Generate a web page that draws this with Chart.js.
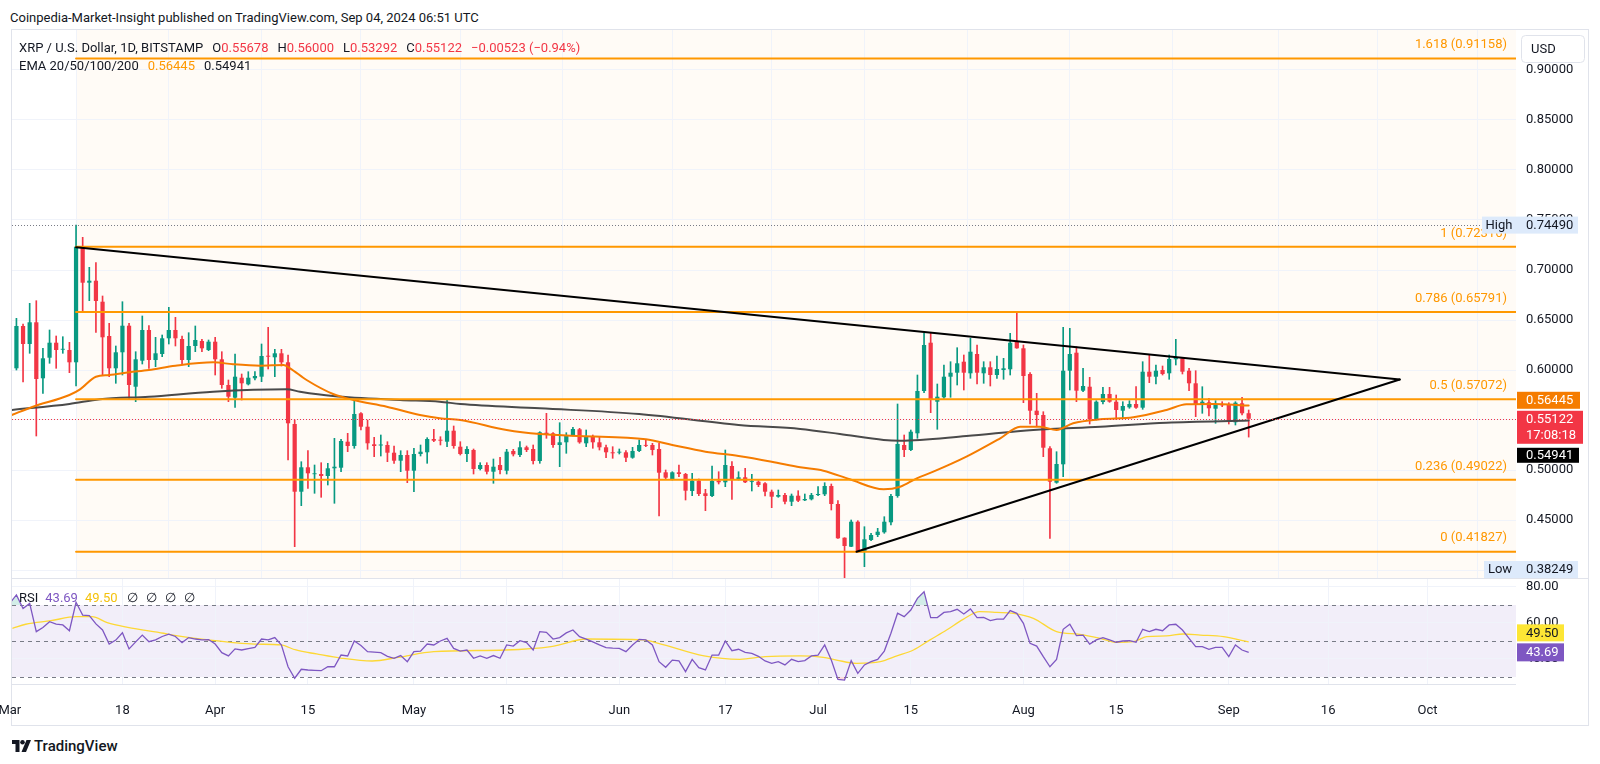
<!DOCTYPE html>
<html>
<head>
<meta charset="utf-8">
<script src="https://cdn.jsdelivr.net/npm/chart.js@4.4.1/dist/chart.umd.min.js"></script>
<style>
html,body{margin:0;padding:0;background:#fff;width:1600px;height:764px;overflow:hidden;font-family:Roboto,"Liberation Sans",sans-serif;color:#131722;}
.abs{position:absolute;white-space:nowrap;font-size:13px;line-height:19px;}
canvas{position:absolute;left:0;}
#frame{position:absolute;left:11px;top:29px;width:1578px;height:697px;border:1px solid #e0e3eb;box-sizing:border-box;pointer-events:none;}
.sep{position:absolute;left:12px;width:1576px;height:1px;background:#e0e3eb;}
.r{color:#F23645}
.o{color:#FF9800}
.p{color:#7E57C2}
.yl{color:#F4C20D}
</style>
</head>
<body>
<div id="frame"></div>
<canvas id="price" width="1600" height="548" style="top:30px;width:1600px;height:548px"></canvas>
<div class="sep" style="top:578px"></div>
<canvas id="rsi" width="1600" height="147" style="top:579px;width:1600px;height:147px"></canvas>
<div class="sep" style="top:684px;width:1504px"></div>

<div class="abs" style="left:10px;top:8px;">Coinpedia-Market-Insight published on TradingView.com, Sep 04, 2024 06:51 UTC</div>
<div class="abs" style="left:19px;top:37.5px;">XRP / U.S. Dollar, 1D, BITSTAMP<span style="margin-left:9px">O</span><span class="r">0.55678</span><span style="margin-left:9px">H</span><span class="r">0.56000</span><span style="margin-left:9px">L</span><span class="r">0.53292</span><span style="margin-left:9px">C</span><span class="r">0.55122</span><span class="r" style="margin-left:9px">−0.00523 (−0.94%)</span></div>
<div class="abs" style="left:19px;top:55.5px;">EMA 20/50/100/200<span class="o" style="margin-left:9px">0.56445</span><span style="margin-left:9px">0.54941</span></div>
<div class="abs" style="left:19px;top:587.5px;">RSI<span class="p" style="margin-left:7px">43.69</span><span class="yl" style="margin-left:7px">49.50</span><span style="margin-left:9px">∅</span><span style="margin-left:8px">∅</span><span style="margin-left:8px">∅</span><span style="margin-left:8px">∅</span></div>
<div class="abs" style="left:12px;top:736px;font-size:15px;line-height:20px;font-weight:500;">
<svg width="19" height="12" viewBox="0 0 38 24" style="vertical-align:-1px"><path d="M0 0h15v24H7V8H0z" fill="#131722"/><circle cx="21" cy="4.5" r="4.5" fill="#131722"/><path d="M29 0h9L28 24h-9z" fill="#131722"/></svg><span style="margin-left:3px">TradingView</span></div>

<script>
// ---------- DATA (day index 0 = 2024-03-01) ----------
const opens = [0.5867,0.6017,0.644,0.626,0.6477,0.5917,0.6123,0.6273,0.6205,0.62,
0.6077,0.7233,0.6873,0.6893,0.6683,0.634,0.6017,0.6177,0.6443,0.5833,
0.6093,0.64,0.61,0.616,0.6317,0.64,0.631,0.61,0.624,0.629,
0.62,0.6283,0.6107,0.585,0.5723,0.5923,0.5857,0.5917,0.5933,0.6143,
0.6127,0.6167,0.6077,0.546,0.4783,0.5027,0.496,0.496,0.494,0.5017,
0.5023,0.5283,0.524,0.5567,0.5433,0.5257,0.5245,0.525,0.5173,0.5093,
0.515,0.4993,0.516,0.5177,0.531,0.5303,0.5283,0.5393,0.5233,0.516,
0.52,0.501,0.505,0.4983,0.505,0.4993,0.519,0.515,0.5227,0.521,
0.509,0.5373,0.5367,0.525,0.5277,0.535,0.5407,0.5267,0.5333,0.5277,
0.5227,0.5177,0.5177,0.5177,0.5123,0.519,0.525,0.525,0.521,0.4977,
0.491,0.4977,0.496,0.479,0.4893,0.4767,0.474,0.4893,0.4877,0.504,
0.491,0.4927,0.4883,0.4883,0.4867,0.4783,0.4733,0.475,0.4683,0.4743,
0.4697,0.4707,0.475,0.4757,0.484,0.466,0.4323,0.4233,0.4483,0.4183,
0.43,0.435,0.4377,0.4477,0.474,0.525,0.52,0.5367,0.579,0.6273,
0.5683,0.5727,0.5933,0.5973,0.6083,0.5967,0.616,0.5967,0.6027,0.595,
0.60,0.6007,0.6283,0.6217,0.596,0.5593,0.555,0.5217,0.4873,0.5057,
0.5993,0.6173,0.5793,0.5833,0.5507,0.568,0.576,0.5683,0.5593,0.5627,
0.566,0.5623,0.5983,0.5933,0.60,0.5967,0.6107,0.6117,0.5993,0.5867,
0.566,0.5677,0.5613,0.566,0.566,0.5477,0.5667,0.55678];
const highs = [0.604,0.6517,0.646,0.6667,0.6693,0.6217,0.64,0.634,0.6333,0.6277,
0.7449,0.7327,0.7027,0.7073,0.674,0.6467,0.624,0.6683,0.6467,0.6183,
0.654,0.6443,0.6327,0.635,0.6627,0.6527,0.634,0.6373,0.644,0.6307,
0.63,0.6327,0.6183,0.59,0.616,0.596,0.5983,0.5983,0.626,0.6427,
0.6207,0.6207,0.615,0.55,0.5083,0.5193,0.505,0.5073,0.5067,0.5317,
0.5307,0.5367,0.5707,0.5573,0.55,0.5327,0.535,0.5283,0.524,0.5193,
0.5193,0.5217,0.525,0.5323,0.5407,0.5333,0.57,0.544,0.5283,0.5233,
0.521,0.5073,0.5073,0.511,0.5127,0.5207,0.5207,0.5283,0.524,0.525,
0.5383,0.5567,0.5373,0.5473,0.5373,0.5427,0.5417,0.54,0.535,0.5327,
0.525,0.5233,0.521,0.5193,0.5227,0.53,0.5307,0.5267,0.5267,0.50,
0.4983,0.505,0.4967,0.4967,0.491,0.4807,0.504,0.4983,0.52,0.5083,
0.4983,0.5017,0.4957,0.4893,0.4873,0.48,0.48,0.4767,0.476,0.4793,
0.476,0.4767,0.4833,0.4873,0.486,0.4693,0.4323,0.45,0.4493,0.4433,
0.4367,0.4417,0.4533,0.4757,0.566,0.535,0.54,0.595,0.6367,0.6373,
0.586,0.605,0.6083,0.6223,0.615,0.6317,0.625,0.6083,0.6083,0.614,
0.6117,0.6367,0.6573,0.625,0.5973,0.5767,0.5583,0.5233,0.5183,0.6427,
0.6417,0.6233,0.6017,0.5927,0.5693,0.5827,0.5827,0.575,0.5683,0.5693,
0.5833,0.6083,0.615,0.605,0.604,0.615,0.6307,0.6127,0.6017,0.5993,
0.5833,0.5717,0.5693,0.5683,0.5673,0.5683,0.5727,0.56];
const lows = [0.583,0.60,0.588,0.6167,0.534,0.5767,0.6067,0.6017,0.6167,0.5973,
0.584,0.6583,0.6693,0.6377,0.595,0.5933,0.5867,0.595,0.5707,0.5683,
0.606,0.6017,0.6033,0.6133,0.626,0.624,0.605,0.6033,0.6183,0.6183,
0.6193,0.595,0.5817,0.5683,0.5627,0.57,0.585,0.59,0.5883,0.601,
0.5933,0.604,0.51,0.4233,0.4643,0.4817,0.4767,0.4727,0.485,0.4667,
0.4983,0.5183,0.5217,0.54,0.5207,0.5133,0.514,0.5083,0.5067,0.4983,
0.4873,0.4783,0.514,0.5067,0.5283,0.525,0.5233,0.5217,0.515,0.5083,
0.496,0.50,0.496,0.4867,0.496,0.496,0.514,0.5133,0.5183,0.506,
0.5067,0.5317,0.5227,0.5033,0.5167,0.534,0.5267,0.5233,0.5217,0.52,
0.5123,0.5117,0.516,0.5083,0.5117,0.5183,0.5233,0.515,0.454,0.491,
0.49,0.4933,0.47,0.4743,0.4743,0.4593,0.4733,0.486,0.4833,0.4707,
0.49,0.4873,0.479,0.4833,0.474,0.4623,0.4727,0.466,0.4643,0.4683,
0.4693,0.47,0.4743,0.4743,0.46,0.4317,0.38249,0.4233,0.4183,0.4033,
0.4293,0.4333,0.4367,0.445,0.4727,0.5133,0.5193,0.5317,0.5773,0.5573,
0.5407,0.5717,0.5727,0.585,0.58,0.5917,0.586,0.5867,0.584,0.5917,
0.5907,0.595,0.6217,0.5673,0.546,0.5433,0.5133,0.4317,0.4867,0.4933,
0.58,0.5683,0.5783,0.546,0.55,0.566,0.5677,0.5507,0.5517,0.5617,
0.5617,0.5607,0.5873,0.586,0.595,0.5907,0.605,0.596,0.5793,0.5533,
0.5567,0.554,0.5467,0.5633,0.546,0.545,0.555,0.53292];
const closes = [0.6017,0.644,0.626,0.6477,0.591,0.6117,0.6273,0.62,0.621,0.6077,
0.7233,0.6873,0.6893,0.669,0.6327,0.6017,0.6177,0.6443,0.585,0.6107,
0.64,0.61,0.6167,0.6317,0.64,0.6317,0.61,0.624,0.63,0.6217,
0.6283,0.6107,0.585,0.5733,0.5933,0.5867,0.5923,0.594,0.614,0.6133,
0.6167,0.6077,0.5467,0.4783,0.5027,0.4967,0.4965,0.494,0.5017,0.5033,
0.529,0.524,0.556,0.5433,0.5267,0.524,0.5255,0.5173,0.5093,0.515,
0.4993,0.516,0.5183,0.531,0.5293,0.5293,0.5393,0.524,0.516,0.521,
0.501,0.505,0.4983,0.5033,0.50,0.5183,0.5157,0.5227,0.52,0.509,
0.5377,0.536,0.525,0.5277,0.535,0.541,0.5277,0.5333,0.5277,0.5227,
0.5177,0.5167,0.518,0.5123,0.519,0.525,0.5243,0.52,0.4973,0.4923,
0.4977,0.496,0.4793,0.4893,0.476,0.474,0.489,0.4877,0.505,0.491,
0.4927,0.4877,0.4885,0.485,0.4783,0.4733,0.475,0.4683,0.4743,0.4693,
0.471,0.475,0.476,0.484,0.466,0.4317,0.424,0.4483,0.4183,0.4307,
0.435,0.4383,0.4483,0.474,0.526,0.52,0.5383,0.579,0.625,0.57,
0.5733,0.5933,0.5973,0.6067,0.5973,0.6183,0.5973,0.6027,0.595,0.601,
0.6017,0.6273,0.6217,0.594,0.5593,0.555,0.5223,0.4883,0.506,0.5993,
0.616,0.5793,0.584,0.5507,0.5683,0.576,0.5683,0.56,0.564,0.566,
0.5623,0.5983,0.5933,0.5993,0.596,0.611,0.6127,0.5983,0.5867,0.566,
0.5683,0.5617,0.566,0.5647,0.5483,0.5673,0.5567,0.55122];

const ema50Days = [0.3,3.5,9,10.6,13,15,18,21,25,30.7,33.7,37.8,41.3,42.3,44.8,48.8,51.9,56.9,61.9,64.9,68,75,80,86,96,100,105,110,115,119.3,122.8,126.8,131.9,134.4,136.9,139.4,144.4,149.5,152.5,155.5,158,160.5,164.6,169.6,174.6,177.6,181.7,187];
const ema50Vals = [0.555,0.5633,0.575,0.5807,0.5933,0.595,0.5977,0.600,0.6043,0.6077,0.6057,0.6043,0.605,0.6017,0.59,0.576,0.57,0.5633,0.555,0.5517,0.55,0.54,0.536,0.534,0.5307,0.525,0.5183,0.514,0.5083,0.5027,0.4993,0.4907,0.4807,0.4833,0.4917,0.4983,0.5133,0.5317,0.5433,0.5433,0.54,0.5467,0.5507,0.5527,0.56,0.5657,0.566,0.56445];
const ema200Days = [0.3,9,13.6,21,30.7,41.8,43.8,48.8,58.9,64.9,68,80,95,110,119.3,125.3,131.9,134.4,144.4,154.5,164.6,174.6,187];
const ema200Vals = [0.56,0.566,0.5707,0.5733,0.5783,0.5807,0.5783,0.574,0.57,0.5683,0.566,0.5617,0.556,0.545,0.541,0.536,0.53,0.5293,0.534,0.54,0.5433,0.5473,0.54941];

const rsiVals = [70.9,75.6,68.1,70.9,55.2,57.5,60.7,59.4,58.9,55.7,
71.5,64.4,64.1,59.5,56.1,48.3,50.5,54.6,45.6,49.5,
53.3,49.6,50.6,52.5,53.8,52.5,49.1,51.9,51.1,50.6,
50.8,48.3,43.5,41.7,45.6,45.0,45.8,46.5,51.1,50.6,
51.9,47.8,35.7,29.3,34.3,33.9,33.7,33.5,35.7,35.7,
42.2,41.7,50.0,47.5,44.1,43.8,43.5,41.5,40.4,41.9,
38.5,44.1,44.4,48.3,47.8,50.0,51.5,45.9,44.4,45.0,
40.4,41.7,40.4,41.9,40.4,47.8,47.2,50.2,49.1,45.0,
55.2,54.8,51.1,51.9,54.5,56.1,52.4,51.0,49.5,47.8,
46.3,46.0,45.9,44.1,47.8,50.9,50.6,47.8,38.5,35.4,
39.4,38.9,33.0,39.8,35.2,33.9,42.2,42.2,50.0,44.6,
45.4,43.7,43.1,41.5,38.9,37.6,38.5,36.7,39.8,38.5,
39.1,41.7,42.2,47.8,39.4,28.7,28.3,39.1,32.0,36.7,
38.5,39.8,44.4,54.3,65.4,63.5,67.2,73.7,77.4,63.0,
63.0,65.9,66.3,67.6,65.0,67.8,63.0,63.1,61.3,62.2,
62.2,66.9,65.4,59.8,48.7,47.2,41.3,35.7,39.8,56.5,
59.3,53.0,53.3,48.3,50.6,51.9,50.6,49.3,50.0,50.2,
49.3,56.5,55.2,56.5,55.7,58.9,59.3,56.1,51.5,46.9,
46.9,45.4,46.5,46.5,41.3,47.8,45.0,43.69];
const rsiMaDays = [0.4,2.4,6.2,10,12.4,14.7,17.8,23.2,25.1,29.3,37,40.9,43.2,46.3,50.1,54.7,58.6,64,74.8,81.7,87.1,95.6,97.9,104.8,110.2,114,119.3,122.8,124.8,127.8,131.4,133.9,136.4,138.9,141.4,143.9,146.4,149,151.5,154.5,158,161.5,164.6,167.1,169.6,171.6,174.6,177.1,179.7,183.2,187];
const rsiMaVals = [57,59.3,61.3,63.5,63.5,60.2,57.6,54.3,53,50.9,48.3,47.8,45,42.8,40.4,38.9,40.9,44.1,45,46.9,51.1,50.6,48.7,41.7,39.8,41.3,41.7,40.9,39.4,37.6,38.5,41.7,45,50.6,56.1,62,66.3,65.9,65.4,62.6,55.2,53.7,51.5,49.3,49.6,52.4,52.8,53.9,53.3,52.4,49.5];

const fibRatios = [1.618, 1, 0.786, 0.5, 0.236, 0];
const fibPrices = [0.91158, 0.72316, 0.65791, 0.57072, 0.49022, 0.41827];
const fibStartDay = 10;
const upperTrendDays = [10, 209.8];
const upperTrendVals = [0.7227, 0.5905];
const lowerTrendDays = [127.8, 209.8];
const lowerTrendVals = [0.4183, 0.5905];

const tickDays = [0,17,31,45,61,75,92,108,122,136,153,167,184,199,214];
const tickLabels = ['Mar','18','Apr','15','May','15','Jun','17','Jul','15','Aug','15','Sep','16','Oct'];
const priceTicks = [0.40,0.45,0.50,0.55,0.60,0.65,0.70,0.75,0.80,0.85,0.90];
const rsiTicks = [40,60,80];

const highValue = 0.74490, lowValue = 0.38249;
const ema50Last = 0.56445, ema200Last = 0.54941, lastClose = 0.55122;
const rsiLast = 43.69, rsiMaLast = 49.50;
const countdown = '17:08:18';

// ---------- CHART ----------
const X_MIN = 0.332, X_MAX = 227.35;
const GREEN = '#089981', RED = '#F23645', ORANGE = '#FF9800';
Chart.defaults.font.family = 'Roboto, "Liberation Sans", sans-serif';
Chart.defaults.font.size = 13;
Chart.defaults.color = '#131722';

const idx = closes.map((_, i) => i);
const candleColors = idx.map(i => closes[i] >= opens[i] ? GREEN : RED);
const wickData = idx.map(i => ({x: i, y: [lows[i], highs[i]]}));
const bodyData = idx.map(i => {
  let lo = Math.min(opens[i], closes[i]), hi = Math.max(opens[i], closes[i]);
  const minB = 0.0009;
  if (hi - lo < minB) { const m = (hi + lo) / 2; lo = m - minB / 2; hi = m + minB / 2; }
  return {x: i, y: [lo, hi]};
});
const toPts = (ds, vs) => ds.map((d, i) => ({x: d, y: vs[i]}));

const lineDefaults = {type: 'line', pointRadius: 0, borderCapStyle: 'round', tension: 0};
const fibDatasets = fibPrices.map((p, i) => Object.assign({}, lineDefaults, {
  label: 'fib' + fibRatios[i], data: [{x: fibStartDay, y: p}, {x: X_MAX, y: p}],
  borderColor: ORANGE, borderWidth: 2, order: 1
}));

function drawBox(ctx, x, y, w, h, bg, lines, color, tx, align) {
  ctx.fillStyle = bg; ctx.fillRect(x, y, w, h);
  ctx.fillStyle = color; ctx.textAlign = align || 'left'; ctx.textBaseline = 'middle';
  const lh = h / lines.length;
  lines.forEach((t, k) => ctx.fillText(t, tx, y + lh * k + lh / 2 + 0.5));
}

const pricePlugin = {
  id: 'priceDecor',
  beforeDraw(chart) {
    const {ctx, chartArea: a, scales: {x}} = chart;
    const x0 = x.getPixelForValue(fibStartDay);
    ctx.save(); ctx.fillStyle = 'rgba(255,152,0,0.035)';
    ctx.fillRect(x0, a.top, a.right - x0, a.bottom - a.top); ctx.restore();
  },
  afterDatasetsDraw(chart) {
    const {ctx, chartArea: a, scales: {y}} = chart;
    ctx.save();
    ctx.lineWidth = 1; ctx.setLineDash([1, 2]);
    const yh = Math.round(y.getPixelForValue(highValue)) + 0.5;
    ctx.strokeStyle = '#787B86';
    ctx.beginPath(); ctx.moveTo(a.left, yh); ctx.lineTo(a.right - 34, yh); ctx.stroke();
    const yp = Math.round(y.getPixelForValue(lastClose)) + 0.5;
    ctx.strokeStyle = RED;
    ctx.beginPath(); ctx.moveTo(a.left, yp); ctx.lineTo(a.right, yp); ctx.stroke();
    ctx.setLineDash([]);
    ctx.font = '13px Roboto, "Liberation Sans", sans-serif';
    ctx.fillStyle = ORANGE; ctx.textAlign = 'right'; ctx.textBaseline = 'middle';
    fibRatios.forEach((r, i) => {
      const yy = y.getPixelForValue(fibPrices[i]);
      ctx.fillText(r + ' (' + fibPrices[i].toFixed(5) + ')', a.right - 9, yy - 13.5);
    });
    ctx.restore();
  },
  afterDraw(chart) {
    const {ctx, chartArea: a, scales: {y}} = chart;
    ctx.save();
    ctx.font = '13px Roboto, "Liberation Sans", sans-serif';
    const R = a.right, tx = R + 10;
    // High
    const yh = y.getPixelForValue(highValue);
    drawBox(ctx, R - 34, yh - 8.5, 34, 17, '#DDEAFB', ['High'], '#131722', R - 17, 'center');
    drawBox(ctx, R, yh - 8.5, 62, 17, '#DDEAFB', [highValue.toFixed(5)], '#131722', tx);
    // Low (clamped to pane bottom)
    const yl = Math.min(y.getPixelForValue(lowValue), a.bottom - 8.5);
    drawBox(ctx, R - 32, yl - 8.5, 32, 17, '#DDEAFB', ['Low'], '#131722', R - 16, 'center');
    drawBox(ctx, R, yl - 8.5, 62, 17, '#DDEAFB', [lowValue.toFixed(5)], '#131722', tx);
    // last price + EMA labels
    const yp = y.getPixelForValue(lastClose);
    const redTop = yp - 8;
    drawBox(ctx, R + 1, redTop, 66, 33, RED, [lastClose.toFixed(5), countdown], '#ffffff', tx);
    drawBox(ctx, R + 1, redTop - 19, 63, 17, '#F57C00', [ema50Last.toFixed(5)], '#ffffff', tx);
    drawBox(ctx, R + 1, redTop + 37, 62, 15, '#000000', [ema200Last.toFixed(5)], '#ffffff', tx);
    // USD box
    ctx.fillStyle = '#ffffff'; ctx.strokeStyle = '#e0e3eb'; ctx.lineWidth = 1;
    ctx.beginPath(); ctx.roundRect(R + 5.5, 5.5, 63, 27, 4); ctx.fill(); ctx.stroke();
    ctx.fillStyle = '#131722'; ctx.textAlign = 'left'; ctx.textBaseline = 'middle';
    ctx.fillText('USD', R + 15, 19.5);
    ctx.restore();
  }
};

new Chart(document.getElementById('price'), {
  type: 'bar',
  data: {
    datasets: [
      {label: 'wicks', data: wickData, backgroundColor: candleColors, barThickness: 1, grouped: false, order: 10},
      {label: 'bodies', data: bodyData, backgroundColor: candleColors, barPercentage: 0.64, categoryPercentage: 1, grouped: false, order: 9},
      Object.assign({}, lineDefaults, {label: 'EMA200', data: toPts(ema200Days, ema200Vals), borderColor: '#4a4a4a', borderWidth: 2, cubicInterpolationMode: 'monotone', order: 8}),
      Object.assign({}, lineDefaults, {label: 'EMA50', data: toPts(ema50Days, ema50Vals), borderColor: '#F57C00', borderWidth: 2, cubicInterpolationMode: 'monotone', order: 7}),
      ...fibDatasets,
      Object.assign({}, lineDefaults, {label: 'upper', data: toPts(upperTrendDays, upperTrendVals), borderColor: '#000000', borderWidth: 2, order: 0}),
      Object.assign({}, lineDefaults, {label: 'lower', data: toPts(lowerTrendDays, lowerTrendVals), borderColor: '#000000', borderWidth: 2, order: 0})
    ]
  },
  options: {
    responsive: false, animation: false, devicePixelRatio: 1,
    layout: {padding: {left: 12, right: 0, top: 0, bottom: 0}},
    plugins: {legend: {display: false}, tooltip: {enabled: false}},
    scales: {
      x: {type: 'linear', min: X_MIN, max: X_MAX, offset: false,
        afterBuildTicks: s => { s.ticks = tickDays.filter(d => d >= X_MIN).map(v => ({value: v})); },
        ticks: {display: false}, grid: {color: '#F0F3FA', drawTicks: false}, border: {display: false},
        afterFit: s => { s.height = 0; s.paddingLeft = 0; s.paddingRight = 0; }},
      y: {type: 'linear', position: 'right', min: 0.392, max: 0.94,
        afterBuildTicks: s => { s.ticks = priceTicks.map(v => ({value: v})); },
        ticks: {padding: 10, color: '#131722', callback: v => Number(v).toFixed(5)},
        grid: {color: '#F0F3FA', drawTicks: false}, border: {display: false},
        afterFit: s => { s.width = 84; s.paddingTop = 0; s.paddingBottom = 0; }}
    }
  },
  plugins: [pricePlugin]
});

const rsiPlugin = {
  id: 'rsiDecor',
  beforeDraw(chart) {
    const {ctx, chartArea: a, scales: {y}} = chart;
    const y70 = y.getPixelForValue(70), y30 = y.getPixelForValue(30);
    ctx.save(); ctx.fillStyle = 'rgba(126,87,194,0.1)';
    ctx.fillRect(a.left, y70, a.right - a.left, y30 - y70); ctx.restore();
  },
  beforeDatasetsDraw(chart) {
    const {ctx, chartArea: a, scales: {y}} = chart;
    ctx.save(); ctx.strokeStyle = '#787B86'; ctx.lineWidth = 1; ctx.setLineDash([4, 4]);
    [70, 50, 30].forEach(v => {
      const yy = Math.round(y.getPixelForValue(v)) + 0.5;
      ctx.beginPath(); ctx.moveTo(a.left, yy); ctx.lineTo(a.right, yy); ctx.stroke();
    });
    ctx.restore();
  },
  afterDraw(chart) {
    const {ctx, chartArea: a, scales: {y}} = chart;
    ctx.save(); ctx.font = '13px Roboto, "Liberation Sans", sans-serif';
    const R = a.right, tx = R + 10;
    const yr = y.getPixelForValue(rsiLast);
    drawBox(ctx, R + 1, yr - 9, 47, 18, '#7E57C2', [rsiLast.toFixed(2)], '#ffffff', tx);
    drawBox(ctx, R + 1, yr - 28, 47, 17, '#FDE635', [rsiMaLast.toFixed(2)], '#131722', tx);
    ctx.restore();
  }
};

new Chart(document.getElementById('rsi'), {
  type: 'line',
  data: {
    datasets: [
      {label: 'RSI MA', data: toPts(rsiMaDays, rsiMaVals), borderColor: '#FDD835', borderWidth: 1.3, pointRadius: 0, cubicInterpolationMode: 'monotone', order: 2},
      {label: 'RSI', data: rsiVals.map((v, i) => ({x: i, y: v})), borderColor: '#7E57C2', borderWidth: 1.3, pointRadius: 0, tension: 0,
        fill: {target: {value: 70}, above: 'rgba(8,153,129,0.18)', below: 'rgba(0,0,0,0)'}, order: 1},
      {label: 'RSI os', data: rsiVals.map((v, i) => ({x: i, y: v})), borderWidth: 0, borderColor: 'rgba(0,0,0,0)', pointRadius: 0, tension: 0,
        fill: {target: {value: 30}, above: 'rgba(0,0,0,0)', below: 'rgba(242,54,69,0.18)'}, order: 3}
    ]
  },
  options: {
    responsive: false, animation: false, devicePixelRatio: 1,
    layout: {padding: {left: 12, right: 0, top: 0, bottom: 0}},
    plugins: {legend: {display: false}, tooltip: {enabled: false}},
    scales: {
      x: {type: 'linear', min: X_MIN, max: X_MAX, offset: false,
        afterBuildTicks: s => { s.ticks = tickDays.map(v => ({value: v})); },
        ticks: {autoSkip: false, maxRotation: 0, padding: 19, color: '#131722',
          callback: v => tickLabels[tickDays.indexOf(v)]},
        grid: {color: c => (c.tick && c.tick.value < X_MIN) ? 'rgba(0,0,0,0)' : '#F0F3FA', drawTicks: false},
        border: {display: false},
        afterFit: s => { s.height = 42; s.paddingLeft = 0; s.paddingRight = 0; }},
      y: {type: 'linear', position: 'right', min: 26.11, max: 84.44,
        afterBuildTicks: s => { s.ticks = rsiTicks.map(v => ({value: v})); },
        ticks: {padding: 10, color: '#131722', callback: v => Number(v).toFixed(2)},
        grid: {color: '#F0F3FA', drawTicks: false}, border: {display: false},
        afterFit: s => { s.width = 84; s.paddingTop = 0; s.paddingBottom = 0; }}
    }
  },
  plugins: [rsiPlugin]
});
</script>
</body>
</html>
